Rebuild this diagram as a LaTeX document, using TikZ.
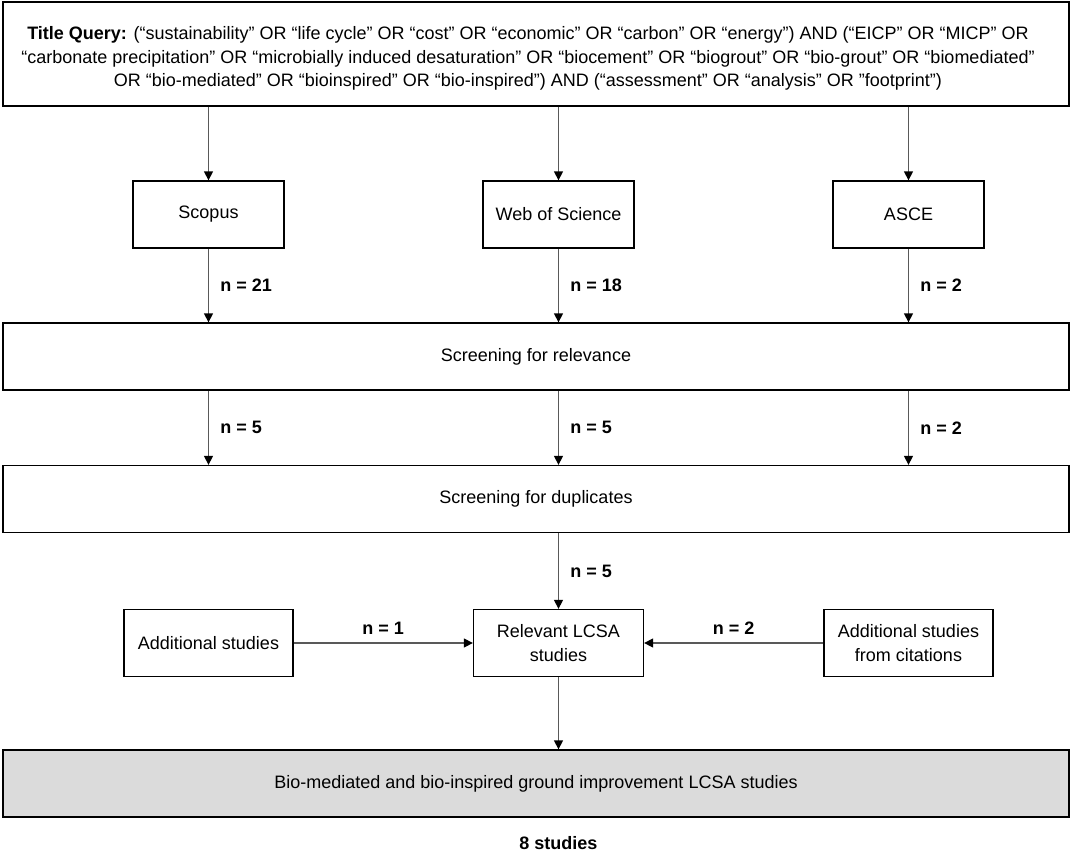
\documentclass[tikz,border=0pt]{standalone}
\usepackage{fontspec}
\setmainfont{Liberation Sans}
\usetikzlibrary{arrows.meta}

\begin{document}
\begin{tikzpicture}[x=1pt, y=-1pt,
    stage/.style={rectangle, draw=black, line width=1.3pt,
        minimum height=67pt, align=center, inner sep=0pt,
        font=\fontsize{18}{23.5}\selectfont},
    flow/.style={-{Triangle[length=9pt, width=9pt, color=black]},
        draw=black!65, line width=1.3pt},
    count/.style={font=\fontsize{18}{22}\selectfont\bfseries}]

\useasboundingbox (0,0) rectangle (1072,854);

% Query
\node[stage, minimum width=1066pt, minimum height=104pt] (Query) at (536,54) {};
\node[stage, draw=none] (QueryText) at (528,58.5)
    {\textbf{Title Query:} (“sustainability” OR “life cycle” OR “cost” OR “economic” OR “carbon” OR “energy”) AND (“EICP” OR “MICP” OR\\
     “carbonate precipitation” OR “microbially induced desaturation” OR “biocement” OR “biogrout” OR “bio-grout” OR “biomediated”\\
     OR “bio-mediated” OR “bioinspired” OR “bio-inspired”) AND (“assessment” OR “analysis” OR ”footprint”)};

% Databases
\foreach \name/\x/\txt in {Scopus/208.5/Scopus, WoS/558.5/Web of Science, ASCE/908.5/ASCE}
{
    \node[stage, minimum width=151pt] (\name) at (\x,214.5) {\txt};
}

% Screening
\node[stage, minimum width=1066pt] (Relevance) at (536,356.5) {Screening for relevance};
\node[stage, minimum width=1066pt] (Duplicates) at (536,499) {Screening for duplicates};

% Studies
\node[stage, minimum width=169pt] (Additional) at (208.5,643) {Additional studies};
\node[stage, minimum width=170pt] (Relevant) at (558.5,643) {Relevant LCSA\\studies};
\node[stage, minimum width=169pt] (Citations) at (908.5,643) {Additional studies\\from citations};

% Result
\node[stage, minimum width=1066pt, fill=black!14] (Final) at (536,783.5)
    {Bio-mediated and bio-inspired ground improvement LCSA studies};
\node[count] (Total) at (558.5,843) {8 studies};

% Query to databases
\foreach \name in {Scopus, WoS, ASCE}
{
    \draw[flow] (\name.north |- Query.south) -- (\name.north);
}

% Databases to relevance
\foreach \name/\n in {Scopus/21, WoS/18, ASCE/2}
{
    \draw[flow] (\name.south) -- (\name.south |- Relevance.north)
        node[count, midway, right=8pt] {n = \n};
}

% Relevance to duplicates
\foreach \name/\n in {Scopus/5, WoS/5, ASCE/2}
{
    \draw[flow] (\name.south |- Relevance.south) -- (\name.south |- Duplicates.north)
        node[count, midway, right=8pt] {n = \n};
}

% Duplicates to relevant studies
\draw[flow] (Relevant.north |- Duplicates.south) -- (Relevant.north)
    node[count, midway, right=8pt] {n = 5};

% Additional studies
\draw[flow] (Additional) -- (Relevant) node[count, midway, above=5pt] {n = 1};
\draw[flow] (Citations) -- (Relevant) node[count, midway, above=5pt] {n = 2};

% Relevant to result
\draw[flow] (Relevant.south) -- (Relevant.south |- Final.north);

\end{tikzpicture}
\end{document}
